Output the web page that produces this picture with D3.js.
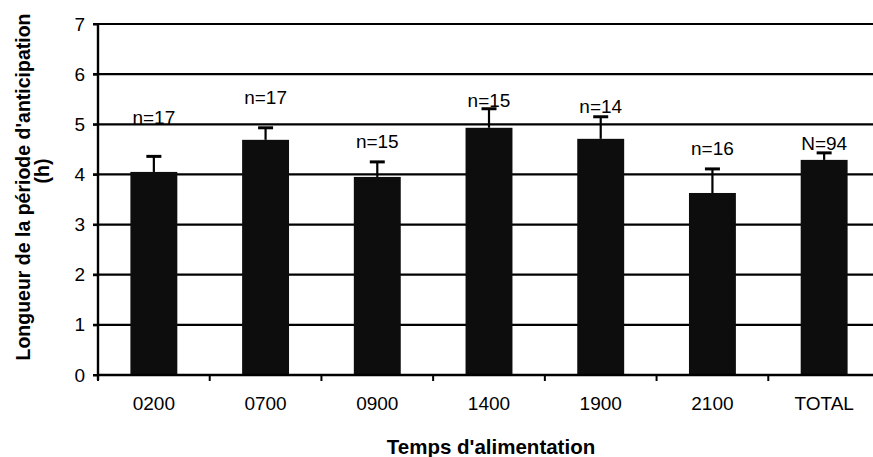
<!DOCTYPE html>
<html>
<head>
<meta charset="utf-8">
<script src="https://cdn.jsdelivr.net/npm/d3@7"></script>
<style>
  body { margin: 0; background: #fff; }
  text { font-family: "Liberation Sans", Arial, sans-serif; fill: #000; }
</style>
</head>
<body>
<svg id="chart"></svg>
<script>
// data
const categories = ['0200', '0700', '0900', '1400', '1900', '2100', 'TOTAL'];
const means = [4.05, 4.69, 3.95, 4.93, 4.71, 3.63, 4.29];
const errTops = [4.36, 4.93, 4.25, 5.31, 5.15, 4.11, 4.43];
const nLabels = ['n=17', 'n=17', 'n=15', 'n=15', 'n=14', 'n=16', 'N=94'];
const labelAt = [5.01, 5.41, 4.53, 5.35, 5.23, 4.39, 4.49];
const yTicks = [0, 1, 2, 3, 4, 5, 6, 7];

const width = 873, height = 457;
const margin = {top: 24, right: -7, bottom: 82, left: 98};
const innerW = width - margin.left - margin.right;
const innerH = height - margin.top - margin.bottom;

const svg = d3.select('#chart')
    .attr('width', width)
    .attr('height', height);

const chart = svg.append('g')
    .attr('transform', `translate(${margin.left},${margin.top})`);

const xScale = d3.scaleBand()
    .domain(categories)
    .range([0, innerW])
    .paddingInner(0.58)
    .paddingOuter(0.29);

const yScale = d3.scaleLinear()
    .domain([0, 7])
    .range([innerH, 0]);

// gridlines
chart.append('g')
  .selectAll('line')
  .data(yTicks)
  .join('line')
    .attr('x1', -5)
    .attr('x2', innerW)
    .attr('y1', d => yScale(d))
    .attr('y2', d => yScale(d))
    .attr('stroke', '#000')
    .attr('stroke-width', 2.2);

// bars
chart.append('g')
  .selectAll('rect')
  .data(categories)
  .join('rect')
    .attr('x', d => xScale(d))
    .attr('y', (d, i) => yScale(means[i]))
    .attr('width', xScale.bandwidth())
    .attr('height', (d, i) => yScale(0) - yScale(means[i]))
    .attr('fill', '#0d0d0d');

// error bars
const err = chart.append('g');
err.selectAll('line.stem')
  .data(categories)
  .join('line')
    .attr('class', 'stem')
    .attr('x1', d => xScale(d) + xScale.bandwidth() / 2)
    .attr('x2', d => xScale(d) + xScale.bandwidth() / 2)
    .attr('y1', (d, i) => yScale(means[i]))
    .attr('y2', (d, i) => yScale(errTops[i]))
    .attr('stroke', '#000')
    .attr('stroke-width', 2.2);
err.selectAll('line.cap')
  .data(categories)
  .join('line')
    .attr('class', 'cap')
    .attr('x1', d => xScale(d) + xScale.bandwidth() / 2 - 7.5)
    .attr('x2', d => xScale(d) + xScale.bandwidth() / 2 + 7.5)
    .attr('y1', (d, i) => yScale(errTops[i]))
    .attr('y2', (d, i) => yScale(errTops[i]))
    .attr('stroke', '#000')
    .attr('stroke-width', 3);

// n labels
chart.append('g')
  .selectAll('text')
  .data(categories)
  .join('text')
    .attr('x', d => xScale(d) + xScale.bandwidth() / 2)
    .attr('y', (d, i) => yScale(labelAt[i]))
    .attr('text-anchor', 'middle')
    .attr('font-size', '19px')
    .text((d, i) => nLabels[i]);

// y axis
const yAxis = d3.axisLeft(yScale)
    .tickValues(yTicks)
    .tickFormat(d3.format('d'))
    .tickSize(5)
    .tickPadding(8);
const yAxisG = chart.append('g').call(yAxis);
yAxisG.select('.domain').remove();
yAxisG.selectAll('line').attr('stroke-width', 2);
yAxisG.selectAll('text')
    .attr('font-size', '19px')
    .attr('font-family', '"Liberation Sans", Arial, sans-serif');
chart.append('line')
    .attr('x1', 0).attr('x2', 0)
    .attr('y1', 0).attr('y2', innerH + 5)
    .attr('stroke', '#000')
    .attr('stroke-width', 2.4);

// x axis: ticks sit between categories
const step = xScale.step();
const boundaries = d3.range(categories.length).map(i => i * step);
chart.append('g')
  .selectAll('line')
  .data(boundaries)
  .join('line')
    .attr('x1', d => d).attr('x2', d => d)
    .attr('y1', innerH).attr('y2', innerH + 6)
    .attr('stroke', '#000')
    .attr('stroke-width', 2);
chart.append('line')
    .attr('x1', 0).attr('x2', innerW)
    .attr('y1', innerH).attr('y2', innerH)
    .attr('stroke', '#000')
    .attr('stroke-width', 2.6);

chart.append('g')
  .selectAll('text')
  .data(categories)
  .join('text')
    .attr('x', d => xScale(d) + xScale.bandwidth() / 2)
    .attr('y', innerH + 35)
    .attr('text-anchor', 'middle')
    .attr('font-size', '19px')
    .text(d => d);

// axis titles
svg.append('text')
    .attr('x', 491)
    .attr('y', 454)
    .attr('text-anchor', 'middle')
    .attr('font-size', '20.5px')
    .attr('font-weight', 'bold')
    .text("Temps d'alimentation");

svg.append('text')
    .attr('transform', 'translate(30,187) rotate(-90)')
    .attr('text-anchor', 'middle')
    .attr('font-size', '19.5px')
    .attr('font-weight', 'bold')
    .text("Longueur de la période d'anticipation");
svg.append('text')
    .attr('transform', 'translate(49,171) rotate(-90)')
    .attr('text-anchor', 'middle')
    .attr('font-size', '19.5px')
    .attr('font-weight', 'bold')
    .text('(h)');
</script>
</body>
</html>
